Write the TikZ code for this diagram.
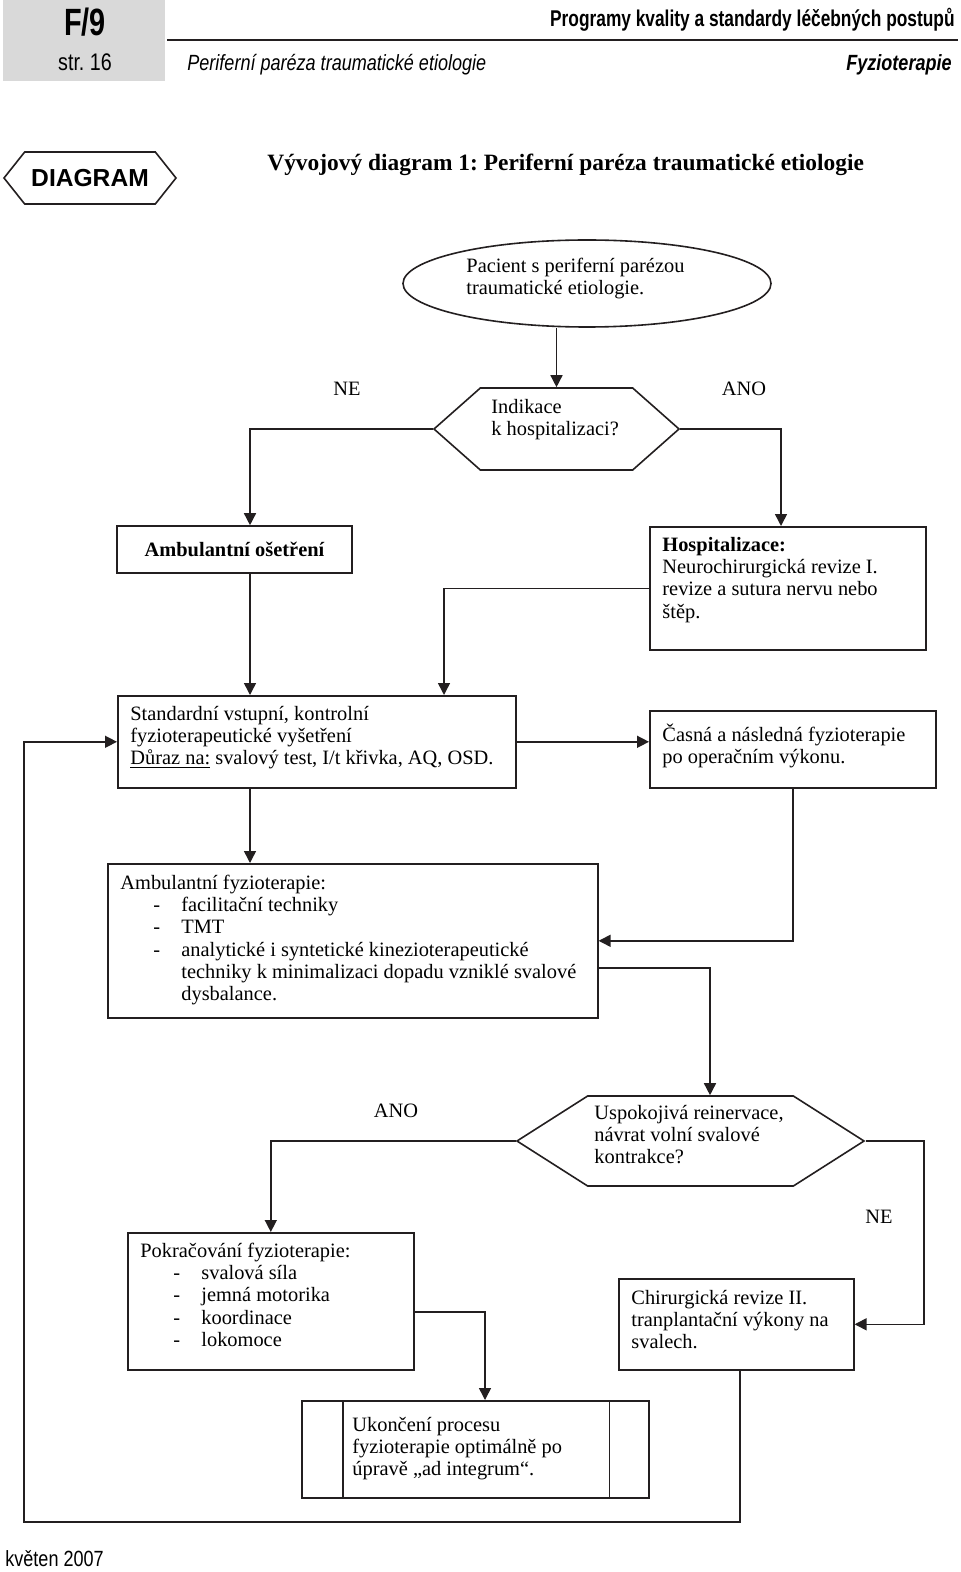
\documentclass[tikz,border=0pt]{standalone}
\usepackage{fontspec}
\setmainfont{Liberation Serif}
\newfontfamily\hdrfont[FakeStretch=0.82]{Liberation Sans}
\newfontfamily\hdrnarrow[FakeStretch=0.76]{Liberation Sans}
\newfontfamily\tagfont{Liberation Sans}
\usepackage{tikz}
\usetikzlibrary{arrows.meta,shapes.geometric,shapes.symbols}
\usepackage{xcolor}
\frenchspacing
\definecolor{lnblack}{RGB}{35,31,32}
\definecolor{hdrgray}{RGB}{217,217,217}
\newcommand{\body}{\fontsize{10.2}{11.1}\selectfont}
\newcommand{\tstrut}{\rule{0pt}{10.5pt}}
\newcommand{\itm}[1]{\hspace*{16.5pt}\makebox[14pt][l]{-}#1}
\tikzstyle{box} = [rectangle, anchor=north west, draw=lnblack, line width=0.8pt, inner sep=0pt]
\tikzstyle{decision} = [signal, signal to=west and east, draw=lnblack, line width=0.8pt, inner sep=0pt]
\tikzstyle{txt} = [anchor=north west, align=left, inner sep=0pt, font=\body]
\tikzstyle{answer} = [font=\body, inner sep=0pt]
\tikzstyle{arrow} = [line width=0.75pt, draw=lnblack, -{Triangle[length=6pt,width=6pt]}]

\begin{document}
\begin{tikzpicture}[x=0.5pt, y=-0.5pt]
\useasboundingbox (0,0) rectangle (960,1572);

% Page header
\fill[hdrgray] (3,0) rectangle (165,81);
\node[font=\hdrnarrow\bfseries\fontsize{19}{19}\selectfont, anchor=base, inner sep=0pt] (fnum) at (85,36) {F/9};
\node[font=\hdrfont\fontsize{12}{12}\selectfont, anchor=base, inner sep=0pt] (page) at (85,71) {str. 16};
\draw[line width=1.25pt, lnblack] (167,40) -- (958,40);
\node[font=\hdrnarrow\bfseries\fontsize{11.4}{11.4}\selectfont, anchor=base east, inner sep=0pt] (series) at (955,27) {Programy kvality a standardy léčebných postupů};
\node[font=\hdrfont\itshape\fontsize{11}{11}\selectfont, anchor=base west, inner sep=0pt] (topic) at (187,71) {Periferní paréza traumatické etiologie};
\node[font=\hdrfont\bfseries\itshape\fontsize{11}{11}\selectfont, anchor=base east, inner sep=0pt] (field) at (952,71) {Fyzioterapie};

% Diagram tag and title
\node[decision, minimum width=86pt, minimum height=26pt, signal pointer angle=103] (tag) at (90,178) {};
\node[font=\tagfont\bfseries\fontsize{12.3}{12.3}\selectfont, anchor=base, inner sep=0pt] (tagtxt) at (90,187) {DIAGRAM};
\node[font=\bfseries\fontsize{11.7}{11.7}\selectfont, anchor=base west, inner sep=0pt] (title) at (267,171) {Vývojový diagram 1: Periferní paréza traumatické etiologie};

% Columns of the connectors
\coordinate (colA) at (250,0);
\coordinate (colB) at (444,0);
\coordinate (colC) at (781,0);
\coordinate (colE) at (710,0);
\coordinate (colG) at (485,0);
\coordinate (colH) at (740,0);
\coordinate (colI) at (924,0);
\coordinate (rowF) at (0,968);
\coordinate (rowP) at (0,1312);
\coordinate (loopL) at (24,1522);

% Patient
\node[ellipse, draw=lnblack, line width=0.8pt, minimum width=184pt, minimum height=43.5pt] (pac) at (587,283.5) {};
\node[txt] (pactxt) at (466,251) {\tstrut Pacient s periferní parézou\\traumatické etiologie.};

% Hospitalisation?
\node[decision, minimum width=122.5pt, minimum height=41pt, signal pointer angle=83] (indik) at (556.5,429) {};
\node[txt] (indiktxt) at (491,392) {\tstrut Indikace\\k hospitalizaci?};

% Outpatient / hospital
\node[box, minimum width=117.5pt, minimum height=23.5pt, font=\body\bfseries, anchor=center] (amb) at (234.5,549.5) {Ambulantní ošetření};
\node[box, minimum width=138pt, minimum height=61.5pt] (hosp) at (649,526) {};
\node[txt] (hosptxt) at (662,530) {\tstrut\textbf{Hospitalizace:}\\Neurochirurgická revize I.\\revize a sutura nervu nebo\\štěp.};

% Examination
\node[box, minimum width=199pt, minimum height=46pt] (std) at (117,695) {};
\node[txt] (stdtxt) at (130,699) {\tstrut Standardní vstupní, kontrolní\\fyzioterapeutické vyšetření\\\underline{Důraz na:} svalový test, I/t křivka, AQ, OSD.};
\node[box, minimum width=143pt, minimum height=38.5pt] (casna) at (649,710) {};
\node[txt] (casnatxt) at (662,720) {\tstrut Časná a následná fyzioterapie\\po operačním výkonu.};

% Outpatient physiotherapy
\node[box, minimum width=245pt, minimum height=77pt] (afyz) at (107,863) {};
\node[txt] (afyztxt) at (120,868) {\tstrut Ambulantní fyzioterapie:\\\itm{facilitační techniky}\\\itm{TMT}\\\itm{analytické i syntetické kinezioterapeutické}\\\hspace*{30.5pt}techniky k minimalizaci dopadu vzniklé svalové\\\hspace*{30.5pt}dysbalance.};

% Reinnervation?
\node[decision, minimum width=173.5pt, minimum height=45pt, signal pointer angle=65] (usp) at (690.5,1141) {};
\node[txt] (usptxt) at (594,1098) {\tstrut Uspokojivá reinervace,\\návrat volní svalové\\kontrakce?};

% Continuation / surgery
\node[box, minimum width=143pt, minimum height=68.5pt] (pok) at (127,1232) {};
\node[txt] (poktxt) at (140,1236) {\tstrut Pokračování fyzioterapie:\\\itm{svalová síla}\\\itm{jemná motorika}\\\itm{koordinace}\\\itm{lokomoce}};
\node[box, minimum width=117.5pt, minimum height=45.5pt] (chir) at (618,1278) {};
\node[txt] (chirtxt) at (631,1283) {\tstrut Chirurgická revize II.\\tranplantační výkony na\\svalech.};

% End
\node[box, minimum width=173.5pt, minimum height=48.5pt] (uk) at (301,1400) {};
\draw[line width=0.8pt, lnblack] ([xshift=21pt]uk.north west) -- ([xshift=21pt]uk.south west);
\draw[line width=0.8pt, lnblack] ([xshift=-20pt]uk.north east) -- ([xshift=-20pt]uk.south east);
\node[txt] (uktxt) at (352,1410) {\tstrut Ukončení procesu\\fyzioterapie optimálně po\\úpravě „ad integrum“.};

% Answers
\node[answer] (ne1) at (347,389) {NE};
\node[answer] (ano1) at (744,389) {ANO};
\node[answer] (ano2) at (396,1111) {ANO};
\node[answer] (ne2) at (879,1217) {NE};

% Arrows
\draw[arrow] (indik.north |- pac.south) -- (indik.north);
\draw[arrow] (indik.west) -| (colA |- amb.north);
\draw[arrow] (indik.east) -| (colC |- hosp.north);
\draw[arrow] (colA |- amb.south) -- (colA |- std.north);
\draw[arrow] (hosp.west) -| (colB |- std.north);
\draw[arrow] (std.east) -- (std.east -| casna.west);
\draw[arrow] (colA |- std.south) -- (colA |- afyz.north);
\draw[arrow] (casna.south) |- (afyz.east);
\draw[arrow] (afyz.east |- rowF) -| (colE |- usp.north);
\draw[arrow] (usp.west) -| (pok.north);
\draw[arrow] (usp.east) -| (colI |- chir.east) -- (chir.east);
\draw[arrow] (pok.east |- rowP) -| (colG |- uk.north);

% Back to examination
\draw[arrow] (colH |- chir.south) -- (colH |- loopL) -| (loopL |- std.west) -- (std.west);

% Footer
\node[font=\hdrfont\fontsize{11}{11}\selectfont, anchor=base west, inner sep=0pt] (date) at (5,1566) {květen 2007};
\end{tikzpicture}
\end{document}
